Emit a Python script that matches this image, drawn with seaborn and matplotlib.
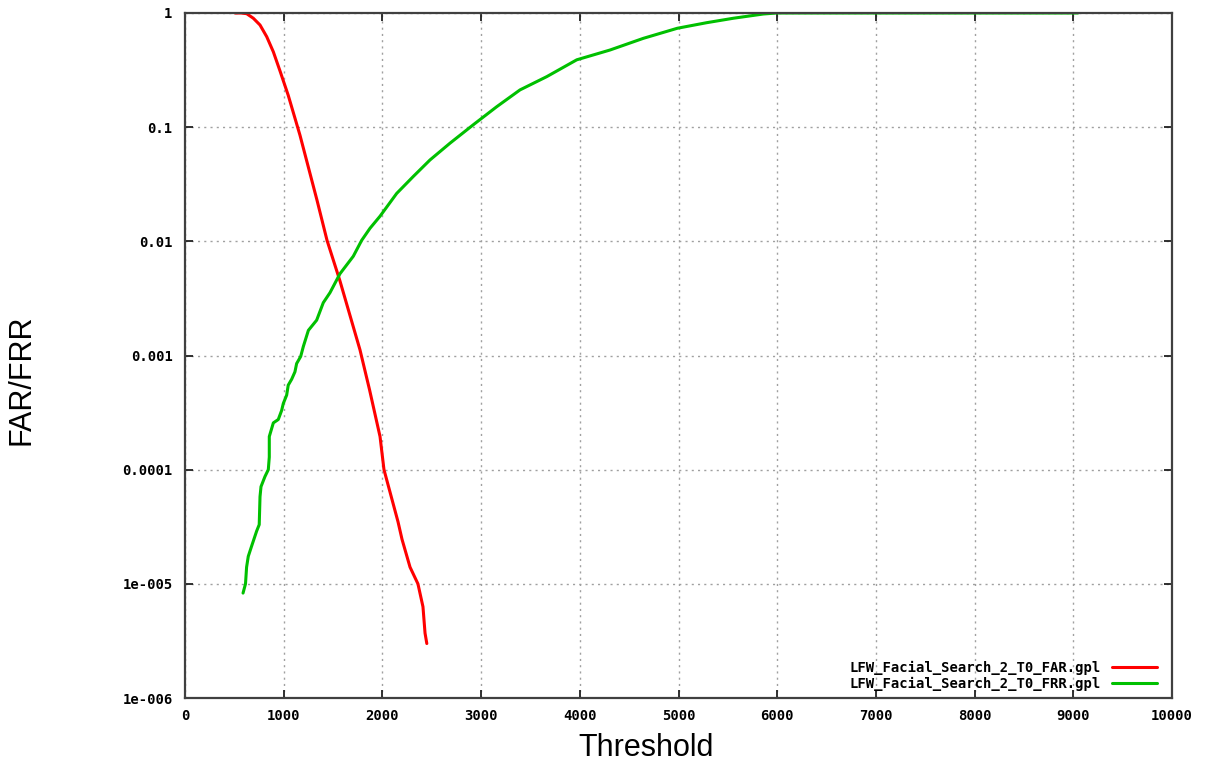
import numpy as np
import pandas as pd
import matplotlib
matplotlib.use("Agg")
import matplotlib.pyplot as plt
import seaborn as sns
from matplotlib.ticker import FixedLocator, FixedFormatter, NullLocator

# FAR curve (threshold, rate)
far_thr = [507, 570, 625, 692, 760, 828, 895, 963, 1046, 1165, 1337, 1439,
           1570, 1773, 1870, 1976, 2016, 2158, 2199, 2280, 2360, 2411, 2432,
           2450]
far_val = [1.0, 1.0, 0.986, 0.90, 0.785, 0.62, 0.457, 0.31, 0.19, 0.085,
           0.023, 0.0102, 0.0045, 0.00112, 0.0005, 0.000195, 0.0001, 3.5e-5,
           2.45e-5, 1.4e-5, 1.0e-5, 6.3e-6, 3.7e-6, 3.0e-6]

# FRR curve
frr_thr = [588, 613, 624, 641, 675, 726, 752, 760, 770, 810, 844, 854, 854,
           895, 945, 979, 996, 1030, 1046, 1081, 1114, 1131, 1172, 1199, 1250,
           1334, 1401, 1469, 1570, 1705, 1790, 1874, 1976, 2145, 2313, 2482,
           2685, 2921, 3158, 3394, 3665, 3969, 4306, 4644, 4988, 5284, 5557,
           5860, 5995, 9047]
frr_val = [8.3e-6, 1.0e-5, 1.4e-5, 1.74e-5, 2.14e-5, 2.9e-5, 3.3e-5, 5.8e-5,
           7.1e-5, 8.7e-5, 1.0e-4, 1.29e-4, 1.95e-4, 2.57e-4, 2.75e-4, 3.3e-4,
           3.8e-4, 4.5e-4, 5.5e-4, 6.2e-4, 7.2e-4, 8.5e-4, 9.8e-4, 1.2e-3,
           1.66e-3, 2.04e-3, 2.9e-3, 3.55e-3, 5.2e-3, 7.4e-3, 0.0102, 0.013,
           0.0166, 0.0263, 0.037, 0.0516, 0.0724, 0.105, 0.151, 0.212, 0.277,
           0.389, 0.474, 0.60, 0.735, 0.822, 0.90, 0.98, 1.0, 1.0]

series_names = ["LFW_Facial_Search_2_T0_FAR.gpl", "LFW_Facial_Search_2_T0_FRR.gpl"]
y_ticks = [1e-6, 1e-5, 1e-4, 1e-3, 1e-2, 1e-1, 1]
y_tick_labels = ["1e-006", "1e-005", "0.0001", "0.001", "0.01", "0.1", "1"]
x_ticks = [0, 1000, 2000, 3000, 4000, 5000, 6000, 7000, 8000, 9000, 10000]

sns.set_style("white")
plt.rcParams["text.color"] = "black"
mono = {"family": "DejaVu Sans Mono", "weight": "bold", "size": 10}

fig = plt.figure(figsize=(12.06, 7.66), dpi=100)
ax = fig.add_axes([185/1206, 1-698/766, (1172-185)/1206, (698-13)/766])

far = pd.DataFrame({"thr": far_thr, "rate": far_val})
frr = pd.DataFrame({"thr": frr_thr, "rate": frr_val})
sns.lineplot(data=far, x="thr", y="rate", ax=ax, color="#ff0000", lw=2.2,
             estimator=None, sort=False, label=series_names[0])
sns.lineplot(data=frr, x="thr", y="rate", ax=ax, color="#00c000", lw=2.2,
             estimator=None, sort=False, label=series_names[1])

ax.set_yscale("log")
ax.set_xlim(0, 10000)
ax.set_ylim(1e-6, 1)
ax.yaxis.set_major_locator(FixedLocator(y_ticks))
ax.yaxis.set_major_formatter(FixedFormatter(y_tick_labels))
ax.yaxis.set_minor_locator(NullLocator())
ax.set_xticks(x_ticks)
ax.set_xticklabels([str(v) for v in x_ticks])
ax.set_xlabel("")
ax.set_ylabel("")

ax.grid(True, which="major", color="#a0a0a0", linestyle=(0, (1.5, 3)), lw=1)
ax.tick_params(which="major", direction="in", length=6, width=1.3,
               top=True, right=True, bottom=True, left=True,
               color="#202020", labelcolor="black")
ax.tick_params(axis="y", pad=9)
ax.tick_params(axis="x", pad=8)
for lab in ax.get_xticklabels() + ax.get_yticklabels():
    lab.set_fontfamily("DejaVu Sans Mono")
    lab.set_fontweight("bold")
    lab.set_fontsize(10)
for s in ax.spines.values():
    s.set_color("#404040")
    s.set_linewidth(1.6)

leg = ax.legend(loc="lower right", bbox_to_anchor=(0.995, -0.0044),
                frameon=False, markerfirst=False,
                prop=mono, handlelength=3.3, labelspacing=0.15,
                borderaxespad=0.3, handletextpad=0.8)
for t in leg.get_texts():
    t.set_color("black")

fig.text(646/1206, 1-748/766, "Threshold", ha="center", va="center",
         fontsize=22, family="Liberation Sans", color="black")
fig.text(22/1206, 1-380/766, "FAR/FRR", ha="center", va="center",
         rotation=90, fontsize=22, family="Liberation Sans", color="black")

fig.savefig("out.png", dpi=100)
